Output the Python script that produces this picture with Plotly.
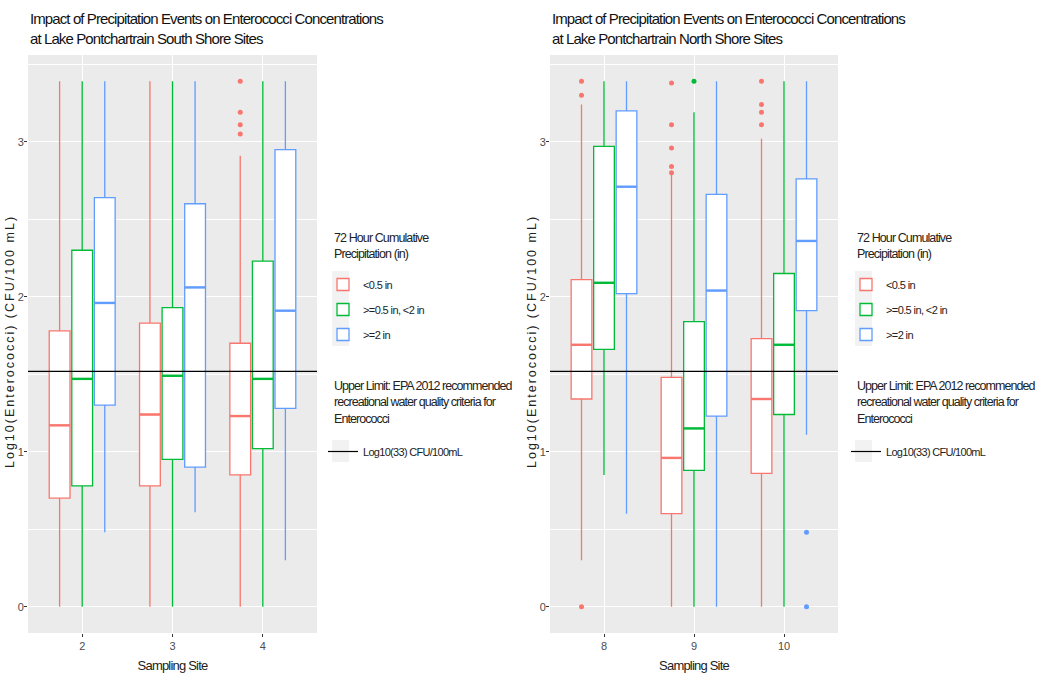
import plotly.graph_objects as go
import math

# categories / groups
south_sites = ["2", "3", "4"]
north_sites = ["8", "9", "10"]
groups = ["<0.5 in", ">=0.5 in, <2 in", ">=2 in"]
colors = ["#F8766D", "#00BA38", "#619CFF"]

# south shore box stats, [group][site]
s_lower = [[0.0, 0.0, 0.0], [0.0, 0.0, 0.0], [0.48, 0.61, 0.30]]
s_q1 = [[0.70, 0.78, 0.85], [0.78, 0.95, 1.02], [1.30, 0.90, 1.28]]
s_med = [[1.17, 1.24, 1.23], [1.47, 1.49, 1.47], [1.96, 2.06, 1.91]]
s_q3 = [[1.78, 1.83, 1.70], [2.30, 1.93, 2.23], [2.64, 2.60, 2.95]]
s_upper = [[3.39, 3.39, 2.91], [3.39, 3.39, 3.39], [3.39, 3.39, 3.39]]
s_outliers = [[[], [], [3.39, 3.19, 3.11, 3.05]],
              [[], [], []],
              [[], [], []]]

# north shore box stats, [group][site]
n_lower = [[0.30, 0.0, 0.0], [0.85, 0.0, 0.0], [0.60, 0.0, 1.11]]
n_q1 = [[1.34, 0.60, 0.86], [1.66, 0.88, 1.24], [2.02, 1.23, 1.91]]
n_med = [[1.69, 0.96, 1.34], [2.09, 1.15, 1.69], [2.71, 2.04, 2.36]]
n_q3 = [[2.11, 1.48, 1.73], [2.97, 1.84, 2.15], [3.20, 2.66, 2.76]]
n_upper = [[3.24, 2.80, 3.02], [3.39, 3.19, 3.39], [3.39, 3.39, 3.39]]
n_outliers = [[[3.39, 3.30, 0.0], [3.38, 3.11, 2.96, 2.84, 2.80], [3.39, 3.24, 3.19, 3.11]],
              [[], [3.39], []],
              [[], [], [0.48, 0.0]]]

epa_limit = math.log10(33)
epa_name = "Log10(33) CFU/100mL"

FONT = "Liberation Sans, Arial, sans-serif"
DODGE = 0.25
BOXW = 0.23
X_RANGE = [0.4, 3.6]
Y_RANGE = [-0.17, 3.56]

W, H = 1044, 683


def fx(px):
    return px / W


def fy(py):
    return 1 - py / H


def squeeze(text, sp):
    # fake the condensed ggplot font with negative letter spacing
    return f'<span style="letter-spacing:{sp}px">{text}</span>'


fig = go.Figure()


def add_panel(xa, ya, leg_box, leg_line, lower, q1, med, q3, upper, outliers):
    n = len(lower[0])
    for g, name in enumerate(groups):
        pos = [i + 1 + (g - 1) * DODGE for i in range(n)]
        fig.add_trace(go.Box(
            x=pos, q1=q1[g], median=med[g], q3=q3[g],
            lowerfence=lower[g], upperfence=upper[g],
            width=BOXW, whiskerwidth=0, name=squeeze(name, -0.6),
            line=dict(color=colors[g], width=1.3),
            fillcolor="white", boxpoints=False,
            xaxis=xa, yaxis=ya, legend=leg_box, legendgroup=leg_box + str(g),
        ))
        # thicker median bar like ggplot
        mx, my = [], []
        for p, m in zip(pos, med[g]):
            mx += [p - BOXW / 2, p + BOXW / 2, None]
            my += [m, m, None]
        fig.add_trace(go.Scatter(
            x=mx, y=my, mode="lines", line=dict(color=colors[g], width=2.4),
            showlegend=False, hoverinfo="skip", xaxis=xa, yaxis=ya,
        ))
        ox, oy = [], []
        for p, vals in zip(pos, outliers[g]):
            ox += [p] * len(vals)
            oy += vals
        if ox:
            fig.add_trace(go.Scatter(
                x=ox, y=oy, mode="markers",
                marker=dict(color=colors[g], size=5),
                showlegend=False, xaxis=xa, yaxis=ya,
            ))
    fig.add_trace(go.Scatter(
        x=X_RANGE, y=[epa_limit, epa_limit], mode="lines",
        line=dict(color="black", width=1.2), name=squeeze(epa_name, -0.7),
        xaxis=xa, yaxis=ya, legend=leg_line,
    ))


add_panel("x", "y", "legend", "legend2", s_lower, s_q1, s_med, s_q3, s_upper, s_outliers)
add_panel("x2", "y2", "legend3", "legend4", n_lower, n_q1, n_med, n_q3, n_upper, n_outliers)

axis_x = dict(
    range=X_RANGE, tickvals=[1, 2, 3], showgrid=True, gridcolor="white", gridwidth=1,
    zeroline=False, ticks="outside", ticklen=3, tickcolor="#333333",
    tickfont=dict(family=FONT, size=11, color="#4D4D4D"),
    title=dict(text=squeeze("Sampling Site", -0.8), font=dict(family=FONT, size=13, color="#222"), standoff=9),
    automargin=False,
)
axis_y = dict(
    range=Y_RANGE, tickvals=[0, 1, 2, 3], showgrid=True, gridcolor="white", gridwidth=1.2,
    zeroline=False, ticks="outside", ticklen=3, tickcolor="#333333", ticklabelstandoff=-2,
    tickfont=dict(family=FONT, size=11, color="#4D4D4D"),
    minor=dict(tickvals=[0.5, 1.5, 2.5, 3.5], showgrid=True, gridcolor="white", gridwidth=0.6, ticks=""),
    automargin=False,
)

legend_common = dict(
    bgcolor="rgba(0,0,0,0)", font=dict(family=FONT, size=11, color="#222"),
    xanchor="left", yanchor="top", itemclick=False, tracegroupgap=6, itemwidth=30,
)

fig.update_layout(
    width=W, height=H,
    margin=dict(l=0, r=0, t=0, b=0),
    paper_bgcolor="white", plot_bgcolor="#EBEBEB",
    xaxis=dict(axis_x, domain=[fx(28), fx(317)], ticktext=south_sites, anchor="y"),
    yaxis=dict(axis_y, domain=[fy(633), fy(55)], anchor="x"),
    xaxis2=dict(axis_x, domain=[fx(550), fx(838)], ticktext=north_sites, anchor="y2"),
    yaxis2=dict(axis_y, domain=[fy(633), fy(55)], anchor="x2"),
    legend=dict(legend_common, x=fx(323), y=fy(270)),
    legend2=dict(legend_common, x=fx(323), y=fy(437)),
    legend3=dict(legend_common, x=fx(846), y=fy(270)),
    legend4=dict(legend_common, x=fx(846), y=fy(437)),
    showlegend=True,
)

title_l = "Impact of Precipitation Events on Enterococci Concentrations<br>at Lake Pontchartrain South Shore Sites"
title_r = "Impact of Precipitation Events on Enterococci Concentrations<br>at Lake Pontchartrain North Shore Sites"
for x0, txt in [(fx(28), title_l), (fx(550), title_r)]:
    fig.add_annotation(text=squeeze(txt, -0.9), xref="paper", yref="paper", x=x0, y=fy(8),
                       xanchor="left", yanchor="top", showarrow=False, align="left",
                       font=dict(family=FONT, size=15, color="#111"))

# y axis titles placed by hand so they clear the tick labels
for x0 in [fx(10), fx(532)]:
    fig.add_annotation(text=squeeze("Log10(Enterococci) (CFU/100 mL)", 2.0), xref="paper", yref="paper",
                       x=x0, y=fy(342), xanchor="center", yanchor="middle", textangle=-90,
                       showarrow=False, font=dict(family=FONT, size=12.5, color="#222"))

# legend titles and the grey key backgrounds of ggplot
box_title = "72 Hour Cumulative<br>Precipitation (in)"
line_title = "Upper Limit: EPA 2012 recommended<br>recreational water quality criteria for<br>Enterococci"
for lx in [332, 855]:
    fig.add_annotation(text=squeeze(box_title, -0.9), xref="paper", yref="paper", x=fx(lx), y=fy(229),
                       xanchor="left", yanchor="top", showarrow=False, align="left",
                       font=dict(family=FONT, size=12.5, color="#222"))
    fig.add_annotation(text=squeeze(line_title, -0.95), xref="paper", yref="paper", x=fx(lx), y=fy(377),
                       xanchor="left", yanchor="top", showarrow=False, align="left",
                       font=dict(family=FONT, size=12.5, color="#222"))
    fig.add_shape(type="rect", xref="paper", yref="paper", x0=fx(lx), x1=fx(lx + 17),
                  y0=fy(346), y1=fy(271), fillcolor="#F2F2F2", line_width=0, layer="below")
    fig.add_shape(type="rect", xref="paper", yref="paper", x0=fx(lx), x1=fx(lx + 17),
                  y0=fy(462), y1=fy(440), fillcolor="#F2F2F2", line_width=0, layer="below")

fig.write_html("out.html", config={"displayModeBar": False},
               post_script="document.body.style.margin='0';document.body.style.overflow='hidden';")
